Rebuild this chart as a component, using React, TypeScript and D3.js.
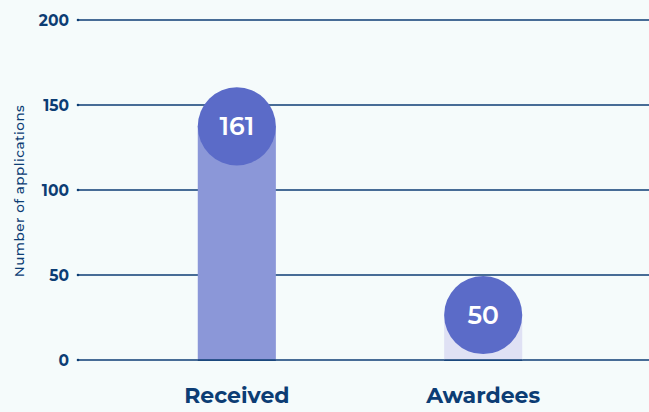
import React from "react";
import * as d3 from "d3";

const categories = ["Received", "Awardees"];
const values = [161, 50];
const yTicks = [0, 50, 100, 150, 200];
const yLabel = "Number of applications";

const W = 649;
const H = 412;
const FONT = "Montserrat, 'Open Sans', Lato, sans-serif";
const NAVY = "#0c3d74";

export default function App() {
  const y = d3.scaleLinear().domain([0, 200]).range([360, 20]);
  const x = d3.scaleBand().domain(categories).range([114, 606]).paddingInner(0.683).paddingOuter(0.34);
  const bw = x.bandwidth();
  const r = bw / 2;
  const barFill = ["#8b97d8", "#dfe1f4"];
  const circleFill = "#5b6bc8";

  return (
    <div style={{ position: "fixed", left: 0, top: 0, width: W, height: H, background: "#f5fbfb" }}>
      <svg width={W} height={H} style={{ display: "block" }}>
        <rect width={W} height={H} fill="#f5fbfb" />
        {yTicks.map((t) => (
          <g key={t}>
            <line x1={78} x2={W} y1={y(t)} y2={y(t)} stroke={NAVY} strokeWidth={1.3} />
            <circle cx={78} cy={y(t)} r={1.3} fill={NAVY} />
            <text x={69} y={y(t)} dy="0.36em" textAnchor="end" fontFamily={FONT} fontWeight={700} fontSize={15.5} fill={NAVY}>
              {t}
            </text>
          </g>
        ))}
        <text
          transform={`translate(23.5, ${(y(0) + y(200)) / 2 + 1}) rotate(-90)`}
          textAnchor="middle"
          fontFamily={FONT}
          fontWeight={500}
          fontSize={13.5}
          letterSpacing={0.5}
          fill={NAVY}
        >
          {yLabel}
        </text>
        {categories.map((c, i) => {
          const cx = (x(c) as number) + bw / 2;
          const cy = y(values[i]) + r + 1;
          return (
            <g key={c}>
              <rect x={x(c) as number} y={cy} width={bw} height={y(0) - cy} fill={barFill[i]} />
              <line x1={x(c) as number} x2={(x(c) as number) + bw} y1={y(0)} y2={y(0)} stroke={NAVY} strokeWidth={1.3} />
              <circle cx={cx} cy={cy} r={r} fill={circleFill} />
              <text x={cx} y={cy} dy="0.36em" textAnchor="middle" fontFamily={FONT} fontWeight={600} fontSize={25} fill="#ffffff">
                {values[i]}
              </text>
              <text x={cx} y={395} dy="0.36em" textAnchor="middle" fontFamily={FONT} fontWeight={700} fontSize={22} fill={NAVY}>
                {c}
              </text>
            </g>
          );
        })}
      </svg>
    </div>
  );
}
